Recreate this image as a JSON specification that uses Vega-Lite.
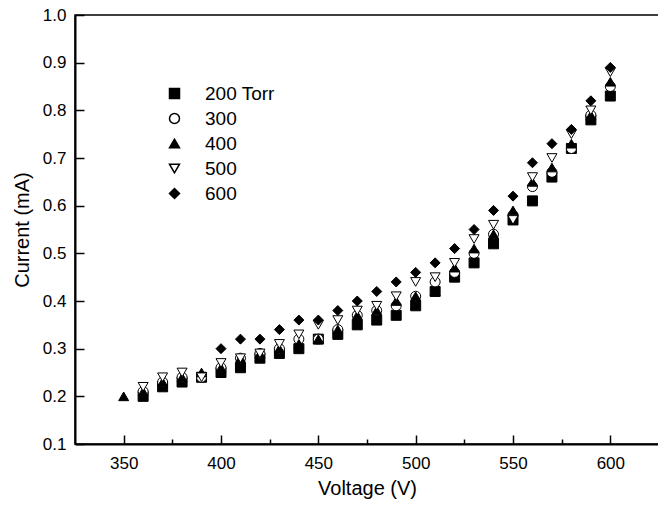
{
  "$schema": "https://vega.github.io/schema/vega-lite/v6.json",
  "width": 584,
  "height": 429,
  "autosize": "none",
  "padding": {"left": 75, "top": 15, "right": 0, "bottom": 61},
  "background": "white",
  "config": {
    "view": {"stroke": "black", "strokeWidth": 1.5},
    "font": "Liberation Sans",
    "axis": {
      "domainColor": "black",
      "domainWidth": 2,
      "tickColor": "black",
      "tickWidth": 1.5,
      "grid": false,
      "labelFont": "Liberation Sans",
      "labelFontSize": 17,
      "labelColor": "black",
      "titleFont": "Liberation Sans",
      "titleFontSize": 20,
      "titleFontWeight": "normal",
      "titleColor": "black"
    },
    "legend": {
      "orient": "none",
      "legendX": 90,
      "legendY": 69,
      "padding": 0,
      "labelFont": "Liberation Sans",
      "labelFontSize": 19,
      "labelColor": "black",
      "rowPadding": 5,
      "labelOffset": 21
    }
  },
  "data": {
    "values": [
      {"V": 360, "I": 0.20, "P": "200 Torr"}, {"V": 370, "I": 0.22, "P": "200 Torr"}, {"V": 380, "I": 0.23, "P": "200 Torr"}, {"V": 390, "I": 0.24, "P": "200 Torr"}, {"V": 400, "I": 0.25, "P": "200 Torr"}, {"V": 410, "I": 0.26, "P": "200 Torr"}, {"V": 420, "I": 0.28, "P": "200 Torr"}, {"V": 430, "I": 0.29, "P": "200 Torr"}, {"V": 440, "I": 0.30, "P": "200 Torr"}, {"V": 450, "I": 0.32, "P": "200 Torr"}, {"V": 460, "I": 0.33, "P": "200 Torr"}, {"V": 470, "I": 0.35, "P": "200 Torr"}, {"V": 480, "I": 0.36, "P": "200 Torr"}, {"V": 490, "I": 0.37, "P": "200 Torr"}, {"V": 500, "I": 0.39, "P": "200 Torr"}, {"V": 510, "I": 0.42, "P": "200 Torr"}, {"V": 520, "I": 0.45, "P": "200 Torr"}, {"V": 530, "I": 0.48, "P": "200 Torr"}, {"V": 540, "I": 0.52, "P": "200 Torr"}, {"V": 550, "I": 0.57, "P": "200 Torr"}, {"V": 560, "I": 0.61, "P": "200 Torr"}, {"V": 570, "I": 0.66, "P": "200 Torr"}, {"V": 580, "I": 0.72, "P": "200 Torr"}, {"V": 590, "I": 0.78, "P": "200 Torr"}, {"V": 600, "I": 0.83, "P": "200 Torr"},
      {"V": 360, "I": 0.21, "P": "300"}, {"V": 370, "I": 0.23, "P": "300"}, {"V": 380, "I": 0.24, "P": "300"}, {"V": 390, "I": 0.24, "P": "300"}, {"V": 400, "I": 0.26, "P": "300"}, {"V": 410, "I": 0.28, "P": "300"}, {"V": 420, "I": 0.29, "P": "300"}, {"V": 430, "I": 0.30, "P": "300"}, {"V": 440, "I": 0.32, "P": "300"}, {"V": 450, "I": 0.32, "P": "300"}, {"V": 460, "I": 0.34, "P": "300"}, {"V": 470, "I": 0.37, "P": "300"}, {"V": 480, "I": 0.38, "P": "300"}, {"V": 490, "I": 0.39, "P": "300"}, {"V": 500, "I": 0.41, "P": "300"}, {"V": 510, "I": 0.44, "P": "300"}, {"V": 520, "I": 0.46, "P": "300"}, {"V": 530, "I": 0.50, "P": "300"}, {"V": 540, "I": 0.54, "P": "300"}, {"V": 550, "I": 0.58, "P": "300"}, {"V": 560, "I": 0.64, "P": "300"}, {"V": 570, "I": 0.67, "P": "300"}, {"V": 580, "I": 0.72, "P": "300"}, {"V": 590, "I": 0.79, "P": "300"}, {"V": 600, "I": 0.85, "P": "300"},
      {"V": 350, "I": 0.20, "P": "400"}, {"V": 360, "I": 0.21, "P": "400"}, {"V": 370, "I": 0.23, "P": "400"}, {"V": 380, "I": 0.24, "P": "400"}, {"V": 390, "I": 0.25, "P": "400"}, {"V": 400, "I": 0.26, "P": "400"}, {"V": 410, "I": 0.28, "P": "400"}, {"V": 420, "I": 0.29, "P": "400"}, {"V": 430, "I": 0.30, "P": "400"}, {"V": 440, "I": 0.31, "P": "400"}, {"V": 450, "I": 0.32, "P": "400"}, {"V": 460, "I": 0.34, "P": "400"}, {"V": 470, "I": 0.37, "P": "400"}, {"V": 480, "I": 0.38, "P": "400"}, {"V": 490, "I": 0.40, "P": "400"}, {"V": 500, "I": 0.41, "P": "400"}, {"V": 510, "I": 0.42, "P": "400"}, {"V": 520, "I": 0.47, "P": "400"}, {"V": 530, "I": 0.51, "P": "400"}, {"V": 540, "I": 0.54, "P": "400"}, {"V": 550, "I": 0.59, "P": "400"}, {"V": 560, "I": 0.65, "P": "400"}, {"V": 570, "I": 0.68, "P": "400"}, {"V": 580, "I": 0.73, "P": "400"}, {"V": 590, "I": 0.79, "P": "400"}, {"V": 600, "I": 0.86, "P": "400"},
      {"V": 360, "I": 0.22, "P": "500"}, {"V": 370, "I": 0.24, "P": "500"}, {"V": 380, "I": 0.25, "P": "500"}, {"V": 390, "I": 0.24, "P": "500"}, {"V": 400, "I": 0.27, "P": "500"}, {"V": 410, "I": 0.28, "P": "500"}, {"V": 420, "I": 0.29, "P": "500"}, {"V": 430, "I": 0.31, "P": "500"}, {"V": 440, "I": 0.33, "P": "500"}, {"V": 450, "I": 0.35, "P": "500"}, {"V": 460, "I": 0.36, "P": "500"}, {"V": 470, "I": 0.38, "P": "500"}, {"V": 480, "I": 0.39, "P": "500"}, {"V": 490, "I": 0.41, "P": "500"}, {"V": 500, "I": 0.44, "P": "500"}, {"V": 510, "I": 0.45, "P": "500"}, {"V": 520, "I": 0.48, "P": "500"}, {"V": 530, "I": 0.53, "P": "500"}, {"V": 540, "I": 0.56, "P": "500"}, {"V": 550, "I": 0.57, "P": "500"}, {"V": 560, "I": 0.66, "P": "500"}, {"V": 570, "I": 0.70, "P": "500"}, {"V": 580, "I": 0.75, "P": "500"}, {"V": 590, "I": 0.80, "P": "500"}, {"V": 600, "I": 0.88, "P": "500"},
      {"V": 400, "I": 0.30, "P": "600"}, {"V": 410, "I": 0.32, "P": "600"}, {"V": 420, "I": 0.32, "P": "600"}, {"V": 430, "I": 0.34, "P": "600"}, {"V": 440, "I": 0.36, "P": "600"}, {"V": 450, "I": 0.36, "P": "600"}, {"V": 460, "I": 0.38, "P": "600"}, {"V": 470, "I": 0.40, "P": "600"}, {"V": 480, "I": 0.42, "P": "600"}, {"V": 490, "I": 0.44, "P": "600"}, {"V": 500, "I": 0.46, "P": "600"}, {"V": 510, "I": 0.48, "P": "600"}, {"V": 520, "I": 0.51, "P": "600"}, {"V": 530, "I": 0.55, "P": "600"}, {"V": 540, "I": 0.59, "P": "600"}, {"V": 550, "I": 0.62, "P": "600"}, {"V": 560, "I": 0.69, "P": "600"}, {"V": 570, "I": 0.73, "P": "600"}, {"V": 580, "I": 0.76, "P": "600"}, {"V": 590, "I": 0.82, "P": "600"}, {"V": 600, "I": 0.89, "P": "600"}
    ]
  },
  "mark": {"type": "point", "filled": true, "stroke": "black", "strokeWidth": 1, "opacity": 1},
  "encoding": {
    "x": {
      "field": "V", "type": "quantitative",
      "scale": {"domain": [325, 625], "nice": false, "zero": false},
      "axis": {
        "title": "Voltage (V)",
        "values": [350, 375, 400, 425, 450, 475, 500, 525, 550, 575, 600],
        "labelExpr": "datum.value % 50 === 0 ? datum.label : ''",
        "tickSize": {"condition": {"test": "datum.value % 50 === 0", "value": -9}, "value": -5},
        "labelPadding": 20,
        "titlePadding": 7
      }
    },
    "y": {
      "field": "I", "type": "quantitative",
      "scale": {"domain": [0.1, 1.0], "nice": false, "zero": false},
      "axis": {
        "title": "Current (mA)",
        "values": [0.1, 0.2, 0.3, 0.4, 0.5, 0.6, 0.7, 0.8, 0.9, 1.0],
        "format": ".1f",
        "tickSize": -9,
        "labelPadding": 18,
        "titlePadding": 10
      }
    },
    "shape": {
      "field": "P", "type": "nominal",
      "scale": {"domain": ["200 Torr", "300", "400", "500", "600"], "range": ["square", "circle", "triangle-up", "triangle-down", "diamond"]},
      "legend": {"title": null, "encode": {"symbols": {"update": {"stroke": {"value": "black"}, "strokeWidth": {"value": 1}}}}}
    },
    "fill": {
      "field": "P", "type": "nominal",
      "scale": {"domain": ["200 Torr", "300", "400", "500", "600"], "range": ["black", "white", "black", "white", "black"]},
      "legend": {"title": null}
    },
    "size": {
      "field": "P", "type": "nominal",
      "scale": {"domain": ["200 Torr", "300", "400", "500", "600"], "range": [100, 100, 144, 144, 169]},
      "legend": {"title": null}
    }
  }
}
